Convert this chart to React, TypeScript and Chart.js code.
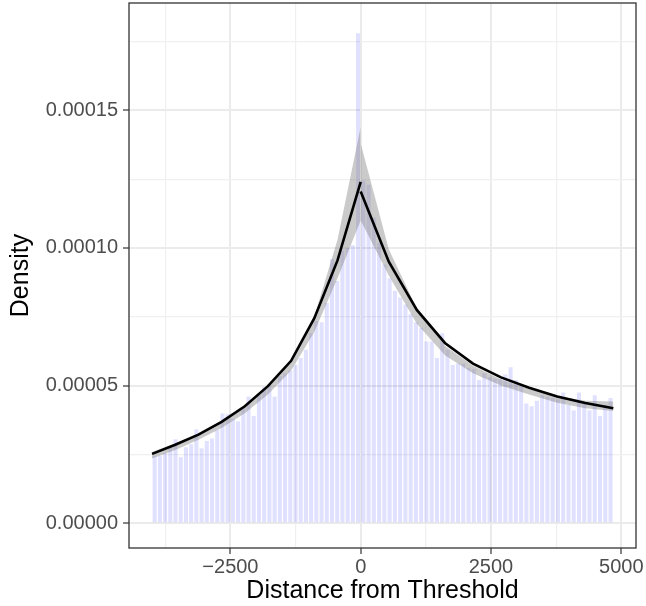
import React, { useEffect, useRef } from 'react';
import { Chart, registerables } from 'chart.js';
Chart.register(...registerables);

// ---- data ----
const LEFT_MIN = -4004;
const RIGHT_MAX = 4845;

const leftDensity = [
  2.45e-5, 2.45e-5, 2.55e-5, 2.75e-5, 3.05e-5, 2.4e-5, 2.76e-5, 2.87e-5, 3.41e-5, 2.72e-5,
  2.99e-5, 3.08e-5, 3.38e-5, 3.99e-5, 3.96e-5, 3.8e-5, 3.7e-5, 4.2e-5, 4.6e-5, 3.9e-5,
  4.65e-5, 4.95e-5, 5.0e-5, 4.6e-5, 5.35e-5, 5.45e-5, 5.55e-5, 5.75e-5, 6.0e-5, 6.3e-5,
  6.9e-5, 7.35e-5, 7.3e-5, 8.0e-5, 9.6e-5, 8.8e-5, 9.9e-5, 10.0e-5, 10.1e-5, 17.8e-5,
];
const rightDensity = [
  12.45e-5, 12.3e-5, 11.1e-5, 10.2e-5, 9.4e-5, 8.9e-5, 8.45e-5, 8.2e-5, 7.95e-5, 7.6e-5,
  7.3e-5, 7.1e-5, 6.6e-5, 6.6e-5, 6.0e-5, 6.9e-5, 6.3e-5, 5.75e-5, 5.8e-5, 5.8e-5,
  5.65e-5, 5.6e-5, 5.2e-5, 5.45e-5, 5.3e-5, 5.25e-5, 5.25e-5, 5.4e-5, 5.67e-5, 5.2e-5,
  5.0e-5, 4.35e-5, 4.25e-5, 4.45e-5, 4.65e-5, 4.6e-5, 4.55e-5, 4.5e-5, 4.75e-5, 4.3e-5,
  4.1e-5, 4.75e-5, 4.4e-5, 4.1e-5, 4.65e-5, 3.9e-5, 4.3e-5, 4.55e-5,
];

const leftGrid = [-4004, -3559, -3114, -2669, -2224, -1780, -1335, -890, -445, 0];
const leftFit = [2.52e-5, 2.85e-5, 3.22e-5, 3.68e-5, 4.25e-5, 4.98e-5, 5.9e-5, 7.45e-5, 9.55e-5, 12.4e-5];
const leftCiHigh = [2.59e-5, 2.9e-5, 3.24e-5, 3.67e-5, 4.2e-5, 4.92e-5, 5.9e-5, 7.5e-5, 10.3e-5, 14.4e-5];
const leftCiLow = [2.35e-5, 2.66e-5, 3.03e-5, 3.46e-5, 4.0e-5, 4.68e-5, 5.55e-5, 6.95e-5, 8.9e-5, 11.0e-5];

const rightGrid = [0, 539, 1077, 1616, 2155, 2693, 3232, 3771, 4309, 4848];
const rightFit = [12.05e-5, 9.5e-5, 7.75e-5, 6.55e-5, 5.8e-5, 5.3e-5, 4.92e-5, 4.6e-5, 4.37e-5, 4.18e-5];
const rightCiHigh = [13.8e-5, 9.95e-5, 7.8e-5, 6.45e-5, 5.72e-5, 5.22e-5, 4.88e-5, 4.62e-5, 4.45e-5, 4.42e-5];
const rightCiLow = [11.0e-5, 9.0e-5, 7.25e-5, 6.1e-5, 5.45e-5, 5.0e-5, 4.68e-5, 4.38e-5, 4.18e-5, 4.08e-5];

const xTickValues = [-3750, -2500, -1250, 0, 1250, 2500, 3750, 5000];
const xTickLabels = ['', '\u22122500', '', '0', '', '2500', '', '5000'];
const yTickValues = [0, 0.000025, 0.00005, 0.000075, 0.0001, 0.000125, 0.00015, 0.000175];
const yTickLabels = ['0.00000', '', '0.00005', '', '0.00010', '', '0.00015', ''];

const X_MIN = -4446;
const X_MAX = 5283;
const Y_MIN = -0.000009;
const Y_MAX = 0.000189;

const FONT = "'Liberation Sans', Arial, Helvetica, sans-serif";

const panelBorder = {
  id: 'panelBorder',
  afterDraw(chart: any) {
    const { ctx, chartArea } = chart;
    ctx.save();
    ctx.strokeStyle = '#333333';
    ctx.lineWidth = 1.3;
    ctx.strokeRect(chartArea.left, chartArea.top, chartArea.right - chartArea.left, chartArea.bottom - chartArea.top);
    ctx.restore();
  },
};

export default function App() {
  const ref = useRef<HTMLCanvasElement | null>(null);
  useEffect(() => {
    if (!ref.current) return;
    const leftW = (0 - LEFT_MIN) / leftDensity.length;
    const rightW = (RIGHT_MAX - 0) / rightDensity.length;
    const bars = [
      ...leftDensity.map((y, i) => ({ x: LEFT_MIN + (i + 0.5) * leftW, y })),
      ...rightDensity.map((y, i) => ({ x: (i + 0.5) * rightW, y })),
    ];
    const pts = (xs: number[], ys: number[]) => xs.map((x, i) => ({ x, y: ys[i] }));
    const lineStyle = { type: 'line' as const, borderColor: '#000000', borderWidth: 2.6, pointRadius: 0, fill: false, tension: 0, order: 0 };
    const band = 'rgba(128,128,128,0.42)';
    const chart = new Chart(ref.current, {
      type: 'bar',
      data: {
        datasets: [
          { ...lineStyle, data: pts(leftGrid, leftFit) } as any,
          { ...lineStyle, data: pts(rightGrid, rightFit) } as any,
          { type: 'line', data: pts(leftGrid, leftCiHigh), borderWidth: 0, borderColor: 'rgba(0,0,0,0)', pointRadius: 0, fill: false, order: 1 } as any,
          { type: 'line', data: pts(leftGrid, leftCiLow), borderWidth: 0, borderColor: 'rgba(0,0,0,0)', pointRadius: 0, fill: '-1', backgroundColor: band, order: 1 } as any,
          { type: 'line', data: pts(rightGrid, rightCiHigh), borderWidth: 0, borderColor: 'rgba(0,0,0,0)', pointRadius: 0, fill: false, order: 1 } as any,
          { type: 'line', data: pts(rightGrid, rightCiLow), borderWidth: 0, borderColor: 'rgba(0,0,0,0)', pointRadius: 0, fill: '-1', backgroundColor: band, order: 1 } as any,
          {
            type: 'bar',
            data: bars,
            backgroundColor: 'rgba(0,0,255,0.12)',
            borderWidth: 0,
            barPercentage: 0.78,
            categoryPercentage: 1,
            order: 2,
          } as any,
        ],
      },
      options: {
        responsive: false,
        animation: false,
        layout: { padding: { top: 3, right: 10, left: 0, bottom: 0 } },
        plugins: { legend: { display: false }, tooltip: { enabled: false } },
        scales: {
          x: {
            type: 'linear',
            min: X_MIN,
            max: X_MAX,
            offset: false,
            afterBuildTicks: (scale: any) => {
              scale.ticks = xTickValues.map((value) => ({ value }));
            },
            afterFit: (scale: any) => {
              scale.height = 58;
              scale.paddingLeft = 0;
              scale.paddingRight = 0;
            },
            ticks: {
              autoSkip: false,
              maxRotation: 0,
              padding: 1,
              color: '#4D4D4D',
              font: { family: FONT, size: 20 },
              callback: (_v: any, i: number) => xTickLabels[i],
            },
            grid: {
              offset: false,
              color: (c: any) => (c.tick && xTickLabels[c.index] !== '' ? '#EBEBEB' : '#F0F0F0'),
              lineWidth: (c: any) => (c.tick && xTickLabels[c.index] !== '' ? 2 : 1.2),
              tickColor: (c: any) => (c.tick && xTickLabels[c.index] !== '' ? '#333333' : 'rgba(0,0,0,0)'),
              tickLength: 6,
              tickWidth: 1.2,
            },
            border: { display: false },
            title: {
              display: true,
              text: 'Distance from Threshold',
              color: '#000000',
              font: { family: FONT, size: 25 },
              padding: { top: 0, bottom: 0 },
            },
          },
          y: {
            type: 'linear',
            min: Y_MIN,
            max: Y_MAX,
            afterBuildTicks: (scale: any) => {
              scale.ticks = yTickValues.map((value) => ({ value }));
            },
            afterFit: (scale: any) => {
              scale.width = 129;
              scale.paddingTop = 0;
              scale.paddingBottom = 0;
            },
            ticks: {
              autoSkip: false,
              padding: 5,
              color: '#4D4D4D',
              font: { family: FONT, size: 20 },
              callback: (_v: any, i: number) => yTickLabels[i],
            },
            grid: {
              color: (c: any) => (c.tick && yTickLabels[c.index] !== '' ? '#EBEBEB' : '#F0F0F0'),
              lineWidth: (c: any) => (c.tick && yTickLabels[c.index] !== '' ? 2 : 1.2),
              tickColor: (c: any) => (c.tick && yTickLabels[c.index] !== '' ? '#333333' : 'rgba(0,0,0,0)'),
              tickLength: 6,
              tickWidth: 1.2,
            },
            border: { display: false },
            title: {
              display: true,
              text: 'Density',
              color: '#000000',
              font: { family: FONT, size: 25 },
              padding: { top: 6, bottom: 0 },
            },
          },
        },
      },
      plugins: [panelBorder],
    } as any);
    return () => chart.destroy();
  }, []);
  return (
    <div style={{ position: 'absolute', left: 0, top: 0, width: 646, height: 606, background: '#ffffff' }}>
      <canvas ref={ref} width={646} height={606} style={{ display: 'block' }} />
    </div>
  );
}
